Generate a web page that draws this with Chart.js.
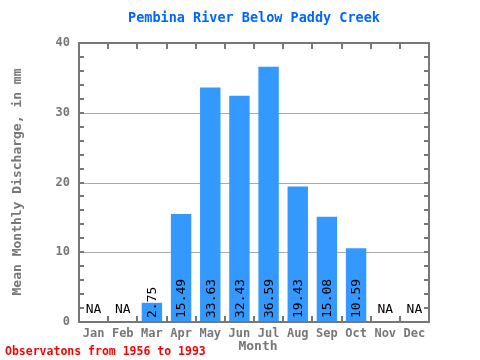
<!DOCTYPE html>
<html><head><meta charset="utf-8">
<script src="https://cdn.jsdelivr.net/npm/chart.js@4/dist/chart.umd.min.js"></script>
<style>html,body{margin:0;padding:0;background:#fff}#wrap{width:480px;height:360px;position:relative}</style>
</head><body><div id="wrap"><canvas id="c" width="480" height="360"></canvas></div>
<script>
const months = ["Jan","Feb","Mar","Apr","May","Jun","Jul","Aug","Sep","Oct","Nov","Dec"];
const discharge = [null,null,2.75,15.49,33.63,32.43,36.59,19.43,15.08,10.59,null,null];
const valueLabels = ["NA","NA","2.75","15.49","33.63","32.43","36.59","19.43","15.08","10.59","NA","NA"];
const yTicks = [0,10,20,30,40];
const titleText = "Pembina River Below Paddy Creek";
const xTitle = "Month";
const yTitle = "Mean Monthly Discharge, in mm";
const footText = "Observatons from 1956 to 1993";
const MONO = "'DejaVu Sans Mono', 'Liberation Mono', monospace";
const GRAY = "#777777";

const deco = {
  id: 'deco',
  beforeDatasetsDraw(chart) {
    const {ctx, chartArea: a, scales: {y}} = chart;
    ctx.save();
    ctx.strokeStyle = '#aaaaaa'; ctx.lineWidth = 1;
    [10,20,30].forEach(v => { const py = Math.round(y.getPixelForValue(v)) + 0.5; ctx.beginPath(); ctx.moveTo(a.left, py); ctx.lineTo(a.right, py); ctx.stroke(); });
    ctx.restore();
  },
  afterDatasetsDraw(chart) {
    const {ctx, chartArea: a, scales: {x, y}} = chart;
    ctx.save();
    ctx.fillStyle = '#000';
    ctx.font = "13px " + MONO;
    discharge.forEach((v, i) => {
      const cx = x.getPixelForValue(i);
      if (v === null) {
        ctx.textAlign = 'center'; ctx.textBaseline = 'middle';
        ctx.fillText(valueLabels[i], cx, y.getPixelForValue(0) - 12);
      } else {
        ctx.save(); ctx.translate(cx, y.getPixelForValue(0) - 4); ctx.rotate(-Math.PI/2);
        ctx.textAlign = 'left'; ctx.textBaseline = 'middle';
        ctx.fillText(valueLabels[i], 0, 1);
        ctx.restore();
      }
    });
    ctx.strokeStyle = GRAY; ctx.lineWidth = 2;
    ctx.strokeRect(a.left, a.top, a.right - a.left, a.bottom - a.top);
    const n = months.length, w = (a.right - a.left) / n;
    for (let i = 1; i < n; i++) {
      const px = Math.round(a.left + i * w);
      ctx.beginPath(); ctx.moveTo(px, a.top); ctx.lineTo(px, a.top + 6); ctx.stroke();
      ctx.beginPath(); ctx.moveTo(px, a.bottom); ctx.lineTo(px, a.bottom - 6); ctx.stroke();
    }
    for (let v = 2; v < 40; v += 2) {
      const py = Math.round(y.getPixelForValue(v));
      ctx.beginPath(); ctx.moveTo(a.left, py); ctx.lineTo(a.left + 5, py); ctx.stroke();
      ctx.beginPath(); ctx.moveTo(a.right, py); ctx.lineTo(a.right - 5, py); ctx.stroke();
    }
    ctx.textAlign = 'center'; ctx.textBaseline = 'middle';
    ctx.fillStyle = '#0066ff'; ctx.font = "bold 13.5px " + MONO;
    ctx.fillText(titleText, 254, 18);
    ctx.fillStyle = GRAY; ctx.font = "bold 13px " + MONO;
    ctx.fillText(xTitle, 258, 347);
    ctx.save(); ctx.translate(18, 182); ctx.rotate(-Math.PI/2);
    ctx.fillText(yTitle, 0, 0); ctx.restore();
    ctx.fillStyle = '#ff0000'; ctx.font = "bold 11.5px " + MONO; ctx.textAlign = 'left';
    ctx.fillText(footText, 5, 352);
    ctx.restore();
  }
};

new Chart(document.getElementById('c'), {
  type: 'bar',
  data: { labels: months, datasets: [{ data: discharge, backgroundColor: '#3399ff', borderWidth: 0, barPercentage: 0.7, categoryPercentage: 1.0 }] },
  options: {
    responsive: false, animation: false, devicePixelRatio: 1,
    layout: { padding: { left: 0, right: 51, top: 43, bottom: 0 } },
    plugins: { legend: { display: false }, tooltip: { enabled: false }, title: { display: false } },
    scales: {
      x: {
        grid: { display: false, drawTicks: false }, border: { display: false },
        ticks: { color: GRAY, font: { family: MONO, size: 12, weight: 'bold' }, padding: 5, maxRotation: 0 },
        afterFit(s) { s.height = 38; }
      },
      y: {
        min: 0, max: 40,
        afterBuildTicks(s) { s.ticks = yTicks.map(v => ({ value: v })); },
        grid: { display: false, drawTicks: false }, border: { display: false },
        ticks: { color: GRAY, font: { family: MONO, size: 12, weight: 'bold' }, padding: 9 },
        afterFit(s) { s.width = 79; }
      }
    }
  },
  plugins: [deco]
});
</script></body></html>
